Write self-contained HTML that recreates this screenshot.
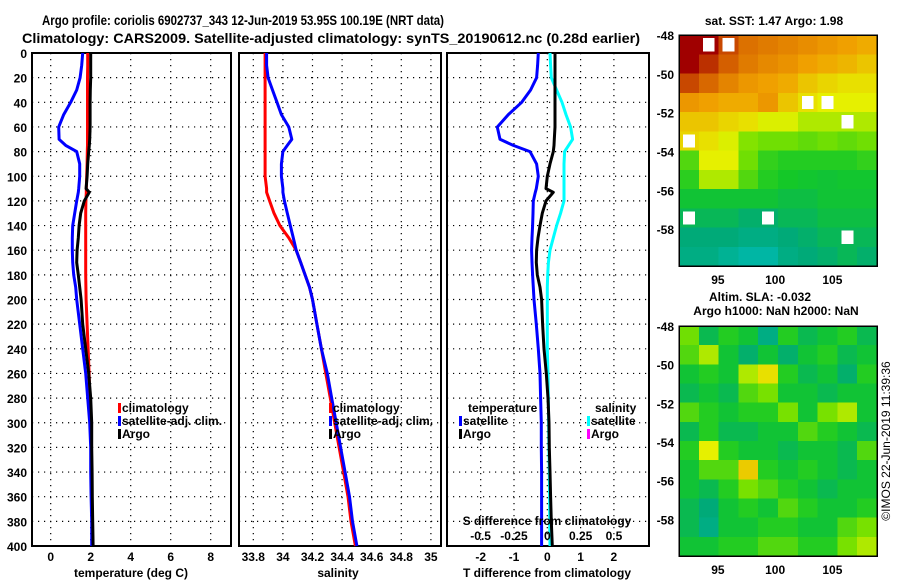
<!DOCTYPE html>
<html><head><meta charset="utf-8"><style>
html,body{margin:0;padding:0;background:#fff;}
svg{display:block;font-family:"Liberation Sans",sans-serif;font-weight:bold;}
</style></head><body>
<svg id="chart" width="900" height="580" viewBox="0 0 900 580" xmlns="http://www.w3.org/2000/svg">
<text x="243" y="25" font-size="14" text-anchor="middle" textLength="402" lengthAdjust="spacingAndGlyphs">Argo profile: coriolis 6902737_343 12-Jun-2019 53.95S 100.19E (NRT data)</text>
<text x="331" y="43" font-size="14" text-anchor="middle" textLength="618" lengthAdjust="spacingAndGlyphs">Climatology: CARS2009. Satellite-adjusted climatology: synTS_20190612.nc (0.28d earlier)</text>
<g id="layer"></g>
</svg>
<script>
// ---- data ----
const depths = [0,10,20,30,40,50,60,70,75,80,90,100,110,113,120,130,140,150,160,170,180,190,200,220,240,260,280,300,320,340,360,380,400];
const tempClim = [1.85,1.85,1.84,1.84,1.84,1.84,1.84,1.84,1.84,1.83,1.82,1.8,1.78,1.78,1.76,1.75,1.75,1.75,1.75,1.75,1.75,1.76,1.77,1.82,1.87,1.92,1.96,2.0,2.02,2.04,2.06,2.08,2.1];
const tempArgo = [2.0,2.0,2.0,1.98,1.97,1.97,1.97,1.95,1.93,1.9,1.85,1.82,1.77,1.93,1.68,1.5,1.42,1.38,1.32,1.3,1.38,1.45,1.52,1.6,1.75,1.9,2.0,2.05,2.05,2.07,2.08,2.1,2.12];
const tempSat = [1.6,1.55,1.47,1.3,1.0,0.65,0.4,0.42,0.75,1.3,1.45,1.45,1.4,1.38,1.3,1.2,1.1,1.08,1.08,1.1,1.15,1.25,1.3,1.45,1.6,1.75,1.85,1.95,2.0,2.0,2.02,2.05,2.05];
const salClim = [33.88,33.88,33.88,33.88,33.88,33.88,33.88,33.88,33.88,33.88,33.88,33.88,33.89,33.89,33.91,33.94,33.98,34.04,34.09,34.12,34.15,34.18,34.2,34.23,34.26,34.29,34.32,34.35,34.38,34.41,34.44,34.46,34.49];
const salSat = [33.89,33.89,33.9,33.93,33.96,33.99,34.04,34.06,34.03,34.0,33.99,33.99,34.0,34.0,34.01,34.03,34.05,34.07,34.09,34.12,34.15,34.18,34.2,34.23,34.26,34.3,34.33,34.36,34.39,34.42,34.45,34.47,34.5];
const tDiffSat = [-0.27,-0.29,-0.32,-0.5,-0.77,-1.17,-1.5,-1.42,-1.02,-0.52,-0.32,-0.27,-0.33,-0.36,-0.42,-0.43,-0.44,-0.46,-0.47,-0.46,-0.44,-0.42,-0.4,-0.33,-0.27,-0.22,-0.2,-0.18,-0.18,-0.17,-0.17,-0.17,-0.17];
const tDiffArgo = [0.23,0.23,0.23,0.23,0.23,0.23,0.23,0.21,0.2,0.18,0.08,0.0,-0.04,0.18,-0.04,-0.15,-0.22,-0.28,-0.32,-0.33,-0.3,-0.22,-0.17,-0.14,-0.1,-0.03,0.02,0.05,0.06,0.08,0.1,0.12,0.15];
const sDiffSat = [0.02,0.025,0.03,0.07,0.11,0.14,0.175,0.19,0.16,0.13,0.125,0.125,0.125,0.125,0.125,0.1,0.07,0.045,0.02,0.008,0.003,0.0,0.0,0.0,0.0,0.005,0.008,0.01,0.012,0.015,0.017,0.018,0.02];
const depthTicks = [0,20,40,60,80,100,120,140,160,180,200,220,240,260,280,300,320,340,360,380,400];
const tempTicks = [0,2,4,6,8];
const salTicks = [33.8,34,34.2,34.4,34.6,34.8,35];
const tDiffTicks = [-2,-1,0,1,2];
const sDiffTicks = [-0.5,-0.25,0,0.25,0.5];
const latTicks = [-48,-50,-52,-54,-56,-58];
const lonTicks = [95,100,105];
const sstGrid = [
[1.0,1.0,0.88,0.8,0.78,0.76,0.74,0.72,0.7,0.68],
[1.0,0.92,0.84,0.78,0.75,0.73,0.7,0.68,0.66,0.63],
[0.88,0.82,0.76,0.72,0.7,0.68,0.63,0.6,0.58,0.58],
[0.72,0.7,0.68,0.68,0.72,0.63,0.58,0.55,0.55,0.55],
[0.63,0.63,0.6,0.58,0.54,0.54,0.5,0.5,0.5,0.5],
[0.6,0.58,0.54,0.46,0.44,0.44,0.42,0.44,0.42,0.44],
[0.4,0.55,0.55,0.44,0.36,0.34,0.34,0.34,0.34,0.36],
[0.35,0.5,0.5,0.4,0.34,0.32,0.31,0.3,0.31,0.31],
[0.3,0.3,0.3,0.3,0.3,0.28,0.28,0.3,0.3,0.3],
[0.25,0.25,0.25,0.22,0.22,0.25,0.25,0.28,0.28,0.28],
[0.2,0.2,0.2,0.18,0.18,0.2,0.22,0.25,0.25,0.25],
[0.18,0.18,0.15,0.12,0.12,0.18,0.2,0.22,0.25,0.22]];
const slaGrid = [
[0.44,0.26,0.34,0.3,0.18,0.34,0.26,0.3,0.34,0.26],
[0.4,0.5,0.3,0.22,0.3,0.22,0.3,0.34,0.26,0.3],
[0.3,0.34,0.3,0.5,0.58,0.34,0.26,0.3,0.22,0.34],
[0.26,0.3,0.26,0.4,0.45,0.3,0.3,0.26,0.3,0.3],
[0.4,0.34,0.3,0.34,0.34,0.45,0.3,0.45,0.5,0.3],
[0.26,0.34,0.26,0.26,0.3,0.3,0.4,0.34,0.3,0.26],
[0.34,0.55,0.34,0.3,0.3,0.26,0.3,0.3,0.26,0.4],
[0.3,0.4,0.4,0.62,0.34,0.3,0.34,0.3,0.26,0.3],
[0.3,0.26,0.34,0.45,0.4,0.34,0.3,0.26,0.3,0.3],
[0.26,0.2,0.3,0.34,0.3,0.4,0.34,0.3,0.3,0.34],
[0.26,0.18,0.3,0.3,0.34,0.34,0.3,0.3,0.4,0.45],
[0.3,0.3,0.34,0.34,0.4,0.4,0.34,0.34,0.45,0.5]];
const sstMask = [[0,1],[0,2],[5,0],[3,6],[3,7],[4,8],[9,0],[10,8],[9,4]];

// ---- helpers ----
const NS = "http://www.w3.org/2000/svg";
const layer = document.getElementById('layer');
function mk(tag, attrs, parent){ const e=document.createElementNS(NS,tag); for(const k in attrs) e.setAttribute(k,attrs[k]); (parent||layer).appendChild(e); return e; }
const yTop=53, yBot=546;
const yD = d => yTop + d*(yBot-yTop)/400;
const xT = t => 50.7 + t*20;
const xS = s => 253.3 + (s-33.8)*148;
const xTD = t => 547.3 + t*33.3;
const xSD = s => 547.3 + s*133.3;

function panel(name, x0, x1){
  const g = mk('g',{});
  
  
  depthTicks.forEach(d=>{ const l=mk('line',{x1:x0,x2:x1,y1:yD(d),y2:yD(d),stroke:'#000','stroke-width':1.2,'stroke-dasharray':'1.2 4.8'},g);
      });
  const r=mk('rect',{x:x0,y:yTop,width:x1-x0,height:yBot-yTop,fill:'none',stroke:'#000','stroke-width':2},g);
   
  return g;
}
function vgrid(g, ticks, fx){ ticks.forEach(t=>{ const l=mk('line',{x1:fx(t),x2:fx(t),y1:yTop,y2:yBot,stroke:'#000','stroke-width':1.2,'stroke-dasharray':'1.2 4.8'},g);
    }); }
function series(g, vals, fx, color, name){
  const pts = depths.map((d,i)=>fx(vals[i]).toFixed(1)+','+yD(d).toFixed(1)).join(' ');
  const p = mk('polyline',{points:pts,fill:'none',stroke:color,'stroke-width':3,'stroke-linejoin':'round'},g);
  
  
}
function txt(s, x, y, size, anchor, name, parent){
  const t = mk('text',{x:x,y:y,'font-size':size,'text-anchor':anchor||'middle'},parent);
  t.textContent = s;
  
  
  return t;
}
function legend(items, x, y){
  items.forEach((it,i)=>{
    const m=mk('rect',{x:x,y:y+i*13-9,width:3,height:10,fill:it[1]});
     
    txt(it[0], x+4, y+i*13, 12, 'start', 'legend-entry');
  });
}

// ---- panel 1 temperature ----
const g1 = panel('temperature-panel', 32, 231);
vgrid(g1, tempTicks, xT);
series(g1, tempClim, xT, '#f00', 'temperature-climatology-line');
series(g1, tempSat, xT, '#00f', 'temperature-satellite-line');
series(g1, tempArgo, xT, '#000', 'temperature-argo-line');
depthTicks.forEach(d=>txt(String(d), 27, yD(d)+5, 12, 'end', 'depth-tick-label'));
tempTicks.forEach(t=>txt(String(t), xT(t), 561, 12, 'middle', 'temperature-tick-label'));
txt('temperature (deg C)', 131, 577, 12, 'middle', 'x-axis-title-temperature');
legend([['climatology','#f00'],['satellite-adj. clim.','#00f'],['Argo','#000']], 118, 412);

// ---- panel 2 salinity ----
const g2 = panel('salinity-panel', 239, 441);
vgrid(g2, salTicks, xS);
series(g2, salClim, xS, '#f00', 'salinity-climatology-line');
series(g2, salSat, xS, '#00f', 'salinity-satellite-line');
salTicks.forEach(s=>txt(String(s), xS(s), 561, 12, 'middle', 'salinity-tick-label'));
txt('salinity', 338, 577, 12, 'middle', 'x-axis-title-salinity');
legend([['climatology','#f00'],['satellite-adj. clim.','#00f'],['Argo','#000']], 329, 412);

// ---- panel 3 differences ----
const g3 = panel('difference-panel', 447, 649);
vgrid(g3, tDiffTicks, xTD);
series(g3, tDiffSat, xTD, '#00f', 'temperature-diff-satellite-line');
series(g3, sDiffSat, xSD, '#0ff', 'salinity-diff-satellite-line');
series(g3, tDiffArgo, xTD, '#000', 'temperature-diff-argo-line');
tDiffTicks.forEach(t=>txt(String(t), xTD(t), 561, 12, 'middle', 't-diff-tick-label'));
sDiffTicks.forEach(s=>txt(String(s), xSD(s), 540, 12, 'middle', 's-diff-tick-label'));
txt('S difference from climatology', 547, 525, 12, 'middle', 's-diff-axis-title');
txt('T difference from climatology', 547, 577, 12, 'middle', 'x-axis-title-t-diff');
txt('temperature', 468, 412, 12, 'start', 'legend-header-temperature');
legend([['satellite','#00f'],['Argo','#000']], 459, 425);
txt('salinity', 595, 412, 12, 'start', 'legend-header-salinity');
legend([['satellite','#0ff'],['Argo','#f0f']], 587, 425);

// ---- maps ----
const cstops = [[0,[0,200,230]],[0.2,[0,170,120]],[0.32,[20,200,40]],[0.45,[120,225,0]],[0.55,[230,240,0]],[0.7,[240,160,0]],[0.85,[210,90,0]],[1,[160,0,0]]];
function cmap(v){ for(let i=1;i<cstops.length;i++){ if(v<=cstops[i][0]){ const a=cstops[i-1],b=cstops[i]; const f=(v-a[0])/(b[0]-a[0]); const c=a[1].map((x,k)=>Math.round(x+(b[1][k]-x)*f)); return 'rgb('+c.join(',')+')'; } } return 'rgb(160,0,0)'; }
function map(name, grid, x0, y0, x1, y1, mask){
  const g = mk('g',{'shape-rendering':'crispEdges'});
  
  
  const rows=grid.length, cols=grid[0].length, cw=(x1-x0)/cols, ch=(y1-y0)/rows;
  grid.forEach((row,r)=>row.forEach((v,c)=>{
    const cell=mk('rect',{x:x0+c*cw,y:y0+r*ch,width:cw+0.5,height:ch+0.5,fill:cmap(v)},g);
     
  }));
  (mask||[]).forEach(m=>{
    const w=mk('rect',{x:x0+m[1]*cw+4,y:y0+m[0]*ch+3,width:cw*0.6,height:ch*0.7,fill:'#fff'},g);
     
  });
  const fr=mk('rect',{x:x0,y:y0,width:x1-x0,height:y1-y0,fill:'none',stroke:'#000','stroke-width':1.5},g);
   
  const yl = lat => y0 + (-48-lat)*(y1-y0)/11.9;
  const xl = lon => x0 + (lon-91.6)*(x1-x0)/17.3;
  latTicks.forEach(l=>txt(String(l), 674, yl(l)+5, 12, 'end', 'latitude-tick-label'));
  lonTicks.forEach(l=>txt(String(l), xl(l), y1+18, 12, 'middle', 'longitude-tick-label'));
}
map('sst-map', sstGrid, 679, 35, 877, 266, sstMask);
txt('sat. SST: 1.47 Argo: 1.98', 774, 25, 12, 'middle', 'sst-map-title');
map('sla-map', slaGrid, 679, 326, 877, 556, []);
txt('Altim. SLA: -0.032', 760, 301, 12, 'middle', 'sla-map-title');
txt('Argo h1000: NaN h2000: NaN', 776, 315, 12, 'middle', 'sla-map-subtitle');
const im = txt('©IMOS 22-Jun-2019 11:39:36', 0, 0, 12, 'middle', 'timestamp-credit');
im.setAttribute('transform','translate(890,441) rotate(-90)');
im.setAttribute('font-weight','normal');
</script>
</body></html>
